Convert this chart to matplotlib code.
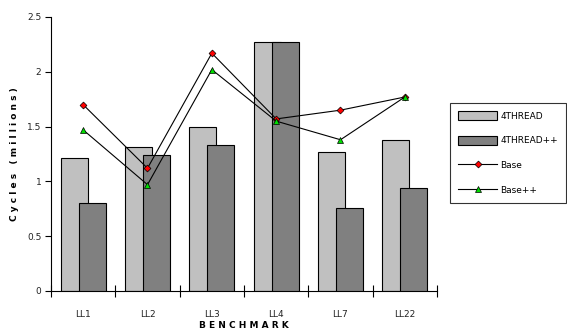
import matplotlib
matplotlib.use("Agg")
import matplotlib.pyplot as plt
import numpy as np

categories = ["LL1", "LL2", "LL3", "LL4", "LL7", "LL22"]
thread4 = [1.21, 1.31, 1.50, 2.27, 1.27, 1.38]
thread4pp = [0.80, 1.24, 1.33, 2.27, 0.76, 0.94]
base = [1.70, 1.12, 2.17, 1.57, 1.65, 1.77]
basepp = [1.47, 0.97, 2.02, 1.55, 1.38, 1.77]

plt.rcParams['font.family'] = ['DejaVu Sans']
fig = plt.figure(figsize=(5.67, 3.33), dpi=100)
ax = fig.add_axes([51/567, 1 - 291/333, (437-51)/567, (291-17)/333])

x = np.arange(len(categories))
w = 0.42
off = 0.14
b1 = ax.bar(x - off, thread4, width=w, color="#C0C0C0", edgecolor="black", linewidth=0.8, label="4THREAD", zorder=2)
b2 = ax.bar(x + off, thread4pp, width=w, color="#808080", edgecolor="black", linewidth=0.8, label="4THREAD++", zorder=3)
l1, = ax.plot(x, base, color="black", linewidth=0.8, marker="D", markersize=3.5,
              markerfacecolor="red", markeredgecolor="black", markeredgewidth=0.5, label="Base", zorder=4)
l2, = ax.plot(x, basepp, color="black", linewidth=0.8, marker="^", markersize=4,
              markerfacecolor="#00DD00", markeredgecolor="black", markeredgewidth=0.5, label="Base++", zorder=4)

ax.set_xlim(-0.5, len(categories) - 0.5)
ax.set_ylim(0, 2.5)
ax.set_yticks([0, 0.5, 1, 1.5, 2, 2.5])
ax.set_yticklabels(["0", "0.5", "1", "1.5", "2", "2.5"], fontsize=6.5, color="#222222")
ax.set_xticks(x)
ax.set_xticklabels(categories, fontsize=6.5, color="#222222")
ax.set_xticks(np.arange(-0.5, len(categories), 1), minor=True)
ax.tick_params(axis="x", which="major", length=0, pad=14)
ax.tick_params(axis="x", which="minor", direction="inout", length=8, width=0.8)
ax.tick_params(axis="y", direction="out", length=4, width=0.8, pad=3)
ax.spines["top"].set_visible(False)
ax.spines["right"].set_visible(False)
for s in ["left", "bottom"]:
    ax.spines[s].set_linewidth(0.8)

ax.set_ylabel("C y c l e s   ( m i l l i o n s )", fontsize=6.5, fontweight="bold", labelpad=6)
ax.set_xlabel("B E N C H M A R K", fontsize=6.5, fontweight="bold", labelpad=1)

leg = fig.legend([b1, b2, l1, l2], ["4THREAD", "4THREAD++", "Base", "Base++"],
                 loc="upper left", bbox_to_anchor=(450/567, 1 - 103/333), fontsize=6.5,
                 frameon=True, fancybox=False, edgecolor="black", handlelength=4.3,
                 handleheight=1.1, handletextpad=0.4, labelspacing=1.7, borderpad=0.9,
                 borderaxespad=0)
leg.get_frame().set_linewidth(0.8)

fig.savefig("out.png", dpi=100)
